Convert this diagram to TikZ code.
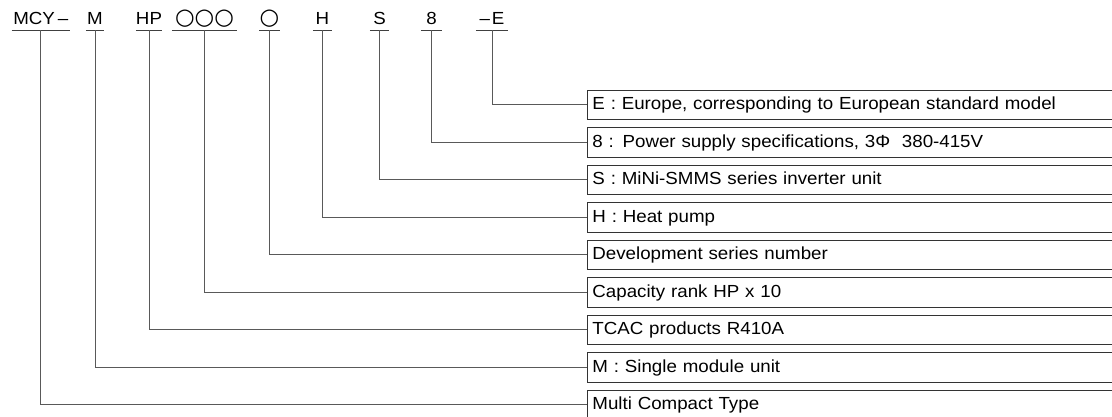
\documentclass[tikz,border=0pt]{standalone}
\usepackage{fontspec}
\setmainfont{Liberation Sans}[FakeStretch=1.07]
\newfontfamily\circfont{DejaVu Sans}
\tikzset{
  code/.style={anchor=base, inner sep=0pt, text depth=5.5pt, font=\fontsize{17.5}{19}\selectfont},
  uline/.style={draw=black!75, line width=0.9pt},
  link/.style={draw=black!65, line width=0.9pt},
  box/.style={draw=black!80, line width=0.9pt, anchor=north west, minimum height=29.5pt,
    text width=520pt, inner xsep=5pt, inner ysep=0pt, align=left,
    text height=13.5pt, text depth=3pt, font=\fontsize{17.5}{19}\selectfont}
}
\begin{document}
\begin{tikzpicture}[x=1pt,y=-1pt]
\useasboundingbox (0,0) rectangle (1112,416);

% model code
\node[code, minimum width=58pt] (mcy) at (40.8,24.3) {MCY\kern3pt–};
\node[code, minimum width=18pt] (mod) at (95,24.3) {M};
\node[code, minimum width=18pt] (hp) at (149,24.3) {HP};
\node[code, minimum width=65pt] (cap) at (204.5,24.3) {\circfont\fontsize{22.5}{24}\selectfont ○○○};
\node[code, minimum width=19pt] (dev) at (269.5,24.3) {\circfont\fontsize{22.5}{24}\selectfont ○};
\node[code, minimum width=19pt] (heat) at (322.5,24.3) {H};
\node[code, minimum width=19pt] (ser) at (379.5,24.3) {S};
\node[code, minimum width=21pt] (pow) at (431.5,24.3) {8};
\node[code, minimum width=32pt] (eur) at (492,24.3) {–\kern2pt E};

\foreach \n in {mcy,mod,hp,cap,dev,heat,ser,pow,eur}
  \draw[uline] (\n.south west) -- (\n.south east);

% meanings
\node[box] (bE) at (587,89.5) {E : Europe, corresponding to European standard model};
\node[box] (b8) at (587,127) {8 : Power supply specifications, 3Φ~~380-415V};
\node[box] (bS) at (587,164.5) {S : MiNi-SMMS series inverter unit};
\node[box] (bH) at (587,202) {H : Heat pump};
\node[box] (bDev) at (587,239.5) {Development series number};
\node[box] (bCap) at (587,277) {Capacity rank HP x 10};
\node[box] (bTC) at (587,314.5) {TCAC products R410A};
\node[box] (bM) at (587,352) {M : Single module unit};
\node[box] (bMCY) at (587,389.5) {Multi Compact Type};

\draw[link] (eur.south) |- (bE.west);
\draw[link] (pow.south) |- (b8.west);
\draw[link] (ser.south) |- (bS.west);
\draw[link] (heat.south) |- (bH.west);
\draw[link] (dev.south) |- (bDev.west);
\draw[link] (cap.south) |- (bCap.west);
\draw[link] (hp.south) |- (bTC.west);
\draw[link] (mod.south) |- (bM.west);
\draw[link] (mcy.south) |- (bMCY.west);
\end{tikzpicture}
\end{document}
